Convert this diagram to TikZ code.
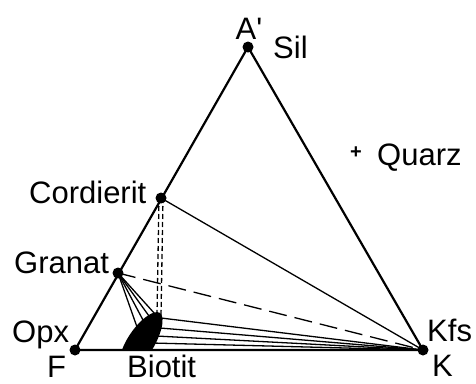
\documentclass[tikz,border=0pt]{standalone}
\usepackage{fontspec}
\setmainfont{Liberation Sans}
\begin{document}
\begin{tikzpicture}[x=1pt,y=-1pt,every node/.style={font=\fontsize{31}{36}\selectfont,inner sep=0pt}]
\useasboundingbox (0,0) rectangle (476,383);
\tikzset{phase/.style={fill,circle,inner sep=0pt,minimum size=11pt},
  tie/.style={line width=1.3pt},
  edge/.style={line width=2.2pt}}
% corners and phases
\node[phase] (a) at (248,47) {};
\node[phase] (f) at (75,350) {};
\node[phase] (k) at (423,350) {};
\node[phase] (crd) at (161,198) {};
\node[phase] (grt) at (118,273) {};
% biotite field
\fill (122,350) .. controls (128,333) and (145,313) .. (157,312) .. controls (166,312) and (164,330) .. (152,350) -- cycle;
\coordinate (b1) at (137,327);
\coordinate (b2) at (143,320);
\coordinate (b3) at (149,316);
\coordinate (b4) at (155,314);
\coordinate (b5) at (161,318);
\coordinate (b6) at (160,328);
\coordinate (b7) at (156,336);
\coordinate (b8) at (152,343);
\coordinate (c1) at (157,315);
\coordinate (c2) at (161,316);
% triangle
\draw[edge] (f.center) -- (a.center) -- (k.center) -- cycle;
% tie lines
\draw[tie] (crd.center) -- (k.center);
\draw[tie,dash pattern=on 18pt off 8pt] (grt.center) -- (k.center);
\foreach \p in {b1,b2,b3,b4} \draw[tie] (grt.center) -- (\p);
\foreach \p in {b5,b6,b7,b8} \draw[tie] (\p) -- (k.center);
\draw[tie,dash pattern=on 5pt off 3pt] ([xshift=-2pt]crd.center) -- (c1);
\draw[tie,dash pattern=on 5pt off 3pt] ([xshift=2pt]crd.center) -- (c2);
% labels
\node[anchor=base] (la) at (249,39) {A\textquotesingle};
\node[anchor=base west] (lsil) at (273,58) {Sil};
\node[font=\fontsize{20}{22}\bfseries] (lplus) at (356,153) {+};
\node[anchor=base west] (lqz) at (377,165) {Quarz};
\node[anchor=base west] (lcrd) at (29,203) {Cordierit};
\node[anchor=base west] (lgrt) at (14,273) {Granat};
\node[anchor=base west] (lopx) at (12,342) {Opx};
\node[anchor=base west] (lf) at (47,377) {F};
\node[anchor=base west] (lbt) at (127,377) {Biotit};
\node[anchor=base west] (lkfs) at (427,341) {Kfs};
\node[anchor=base west] (lk) at (432,376) {K};
\end{tikzpicture}
\end{document}
